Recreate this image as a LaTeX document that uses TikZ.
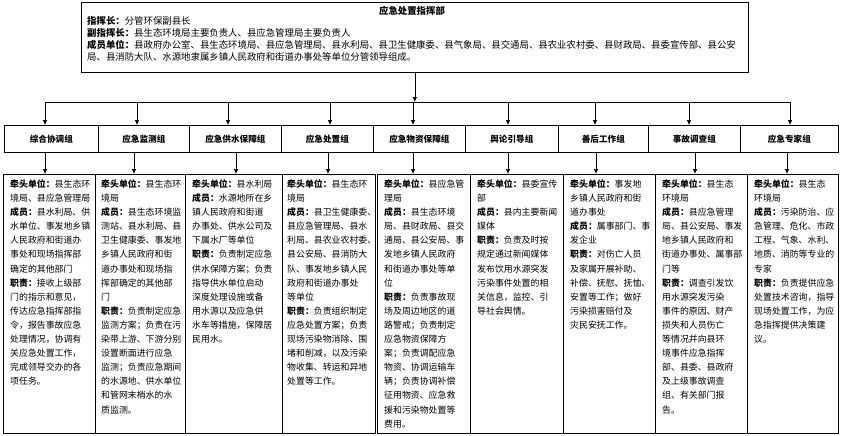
\documentclass[tikz,border=0pt]{standalone}
\usepackage{fontspec}
\setmainfont{Noto Sans CJK SC}
\usetikzlibrary{arrows.meta,calc}
\tikzset{
  box/.style={draw=black, line width=0.7pt, inner sep=0pt, anchor=north west},
  grp/.style={box, minimum height=27, font=\fontsize{8.6}{10}\selectfont\bfseries},
  txt/.style={inner sep=0pt, anchor=north west, align=left, font=\fontsize{8.9}{14.1}\selectfont},
  toptxt/.style={inner sep=0pt, anchor=north west, align=left, font=\fontsize{9.4}{12}\selectfont},
  arr/.style={line width=0.7pt, -{Latex[length=5pt,width=4.5pt]}},
  ln/.style={line width=0.7pt}
}
\begin{document}
\begin{tikzpicture}[x=1pt,y=-1pt]
\useasboundingbox (0,0) rectangle (843,436);

% command box
\node[box, minimum width=667, minimum height=70] (cmd) at (81,2) {};
\node[inner sep=0pt, font=\fontsize{9.4}{12}\selectfont\bfseries] (title) at (412,11) {应急处置指挥部};
\node[toptxt] (cmdtxt) at (87,16.5) {\textbf{指挥长：}分管环保副县长\\
\textbf{副指挥长：}县生态环境局主要负责人、县应急管理局主要负责人\\
\textbf{成员单位：}县政府办公室、县生态环境局、县应急管理局、县水利局、县卫生健康委、县气象局、县交通局、县农业农村委、县财政局、县委宣传部、县公安\\
局、县消防大队、水源地隶属乡镇人民政府和街道办事处等单位分管领导组成。};

% group boxes
\foreach \i/\xl/\w/\lab in {1/4/94/综合协调组, 2/98/91/应急监测组, 3/189/92/应急供水保障组,
  4/281/92/应急处置组, 5/373/92/应急物资保障组, 6/465/93/舆论引导组,
  7/558/90/善后工作组, 8/648/92/事故调查组, 9/740/98/应急专家组}{
  \node[grp, minimum width=\w] (g\i) at (\xl,125) {\lab};
}

% detail boxes
\foreach \i/\xl/\w in {1/3/92, 2/95/90, 3/185/97, 4/282/93, 5/377/93, 6/470/93, 7/563/92, 8/655/92, 9/747/91}{
  \node[box, minimum width=\w, minimum height=259] (d\i) at (\xl,174) {};
}

% connectors
\foreach \i/\xa in {1/45, 2/137, 3/228, 4/330, 5/413, 6/508, 7/595, 8/689, 9/790}{
  \coordinate (u\i) at (\xa,102);
}
\foreach \i/\xb in {1/45, 2/134, 3/236, 4/328, 5/413, 6/508, 7/596, 8/695, 9/787}{
  \coordinate (l\i) at (\xb,152);
}
\draw[ln] (u1) -- (u9);
\draw[arr] (cmd.south) -- (cmd.south |- u1);
\foreach \i in {1,...,9}{
  \draw[arr] (u\i) -- (u\i |- g\i.north);
  \draw[arr] (l\i) -- (l\i |- d\i.north);
}

% detail texts
\node[txt] (t1) at ($(d1.north west)+(7,5.5)$) {\textbf{牵头单位：}县生态环\\境局、县应急管理局\\\textbf{成员：}县水利局、供\\水单位、事发地乡镇\\人民政府和街道办\\事处和现场指挥部\\确定的其他部门\\\textbf{职责：}接收上级部\\门的指示和意见，\\传达应急指挥部指\\令，报告事故应急\\处理情况，协调有\\关应急处置工作，\\完成领导交办的各\\项任务。};

\node[txt] (t2) at ($(d2.north west)+(6,5.5)$) {\textbf{牵头单位：}县生态环\\境局\\\textbf{成员：}县生态环境监\\测站、县水利局、县\\卫生健康委、事发地\\乡镇人民政府和街\\道办事处和现场指\\挥部确定的其他部\\门\\\textbf{职责：}负责制定应急\\监测方案；负责在污\\染带上游、下游分别\\设置断面进行应急\\监测；负责应急期间\\的水源地、供水单位\\和管网末梢水的水\\质监测。};

\node[txt] (t3) at ($(d3.north west)+(7,5.5)$) {\textbf{牵头单位：}县水利局\\\textbf{成员：}水源地所在乡\\镇人民政府和街道\\办事处、供水公司及\\下属水厂等单位\\\textbf{职责：}负责制定应急\\供水保障方案；负责\\指导供水单位启动\\深度处理设施或备\\用水源以及应急供\\水车等措施，保障居\\民用水。};

\node[txt] (t4) at ($(d4.north west)+(5,5.5)$) {\textbf{牵头单位：}县生态环\\境局\\\textbf{成员：}县卫生健康委、\\县应急管理局、县水\\利局、县农业农村委、\\县公安局、县消防大\\队、事发地乡镇人民\\政府和街道办事处\\等单位\\\textbf{职责：}负责组织制定\\应急处置方案；负责\\现场污染物消除、围\\堵和削减，以及污染\\物收集、转运和异地\\处置等工作。};

\node[txt] (t5) at ($(d5.north west)+(7,5.5)$) {\textbf{牵头单位：}县应急管\\理局\\\textbf{成员：}县生态环境\\局、县财政局、县交\\通局、县公安局、事\\发地乡镇人民政府\\和街道办事处等单\\位\\\textbf{职责：}负责事故现\\场及周边地区的道\\路警戒；负责制定\\应急物资保障方\\案；负责调配应急\\物资、协调运输车\\辆；负责协调补偿\\征用物资、应急救\\援和污染物处置等\\费用。};

\node[txt] (t6) at ($(d6.north west)+(7,5.5)$) {\textbf{牵头单位：}县委宣传\\部\\\textbf{成员：}县内主要新闻\\媒体\\\textbf{职责：}负责及时按\\规定通过新闻媒体\\发布饮用水源突发\\污染事件处置的相\\关信息，监控、引\\导社会舆情。};

\node[txt] (t7) at ($(d7.north west)+(7,5.5)$) {\textbf{牵头单位：}事发地\\乡镇人民政府和街\\道办事处\\\textbf{成员：}属事部门、事\\发企业\\\textbf{职责：}对伤亡人员\\及家属开展补助、\\补偿、抚慰、抚恤、\\安置等工作；做好\\污染损害赔付及\\灾民安抚工作。};

\node[txt] (t8) at ($(d8.north west)+(7,5.5)$) {\textbf{牵头单位：}县生态\\环境局\\\textbf{成员：}县应急管理\\局、县公安局、事发\\地乡镇人民政府和\\街道办事处、属事部\\门等\\\textbf{职责：}调查引发饮\\用水源突发污染\\事件的原因、财产\\损失和人员伤亡\\等情况并向县环\\境事件应急指挥\\部、县委、县政府\\及上级事故调查\\组、有关部门报\\告。};

\node[txt] (t9) at ($(d9.north west)+(7,5.5)$) {\textbf{牵头单位：}县生态\\环境局\\\textbf{成员：}污染防治、应\\急管理、危化、市政\\工程、气象、水利、\\地质、消防等专业的\\专家\\\textbf{职责：}负责提供应急\\处置技术咨询，指导\\现场处置工作，为应\\急指挥提供决策建\\议。};
\end{tikzpicture}
\end{document}
